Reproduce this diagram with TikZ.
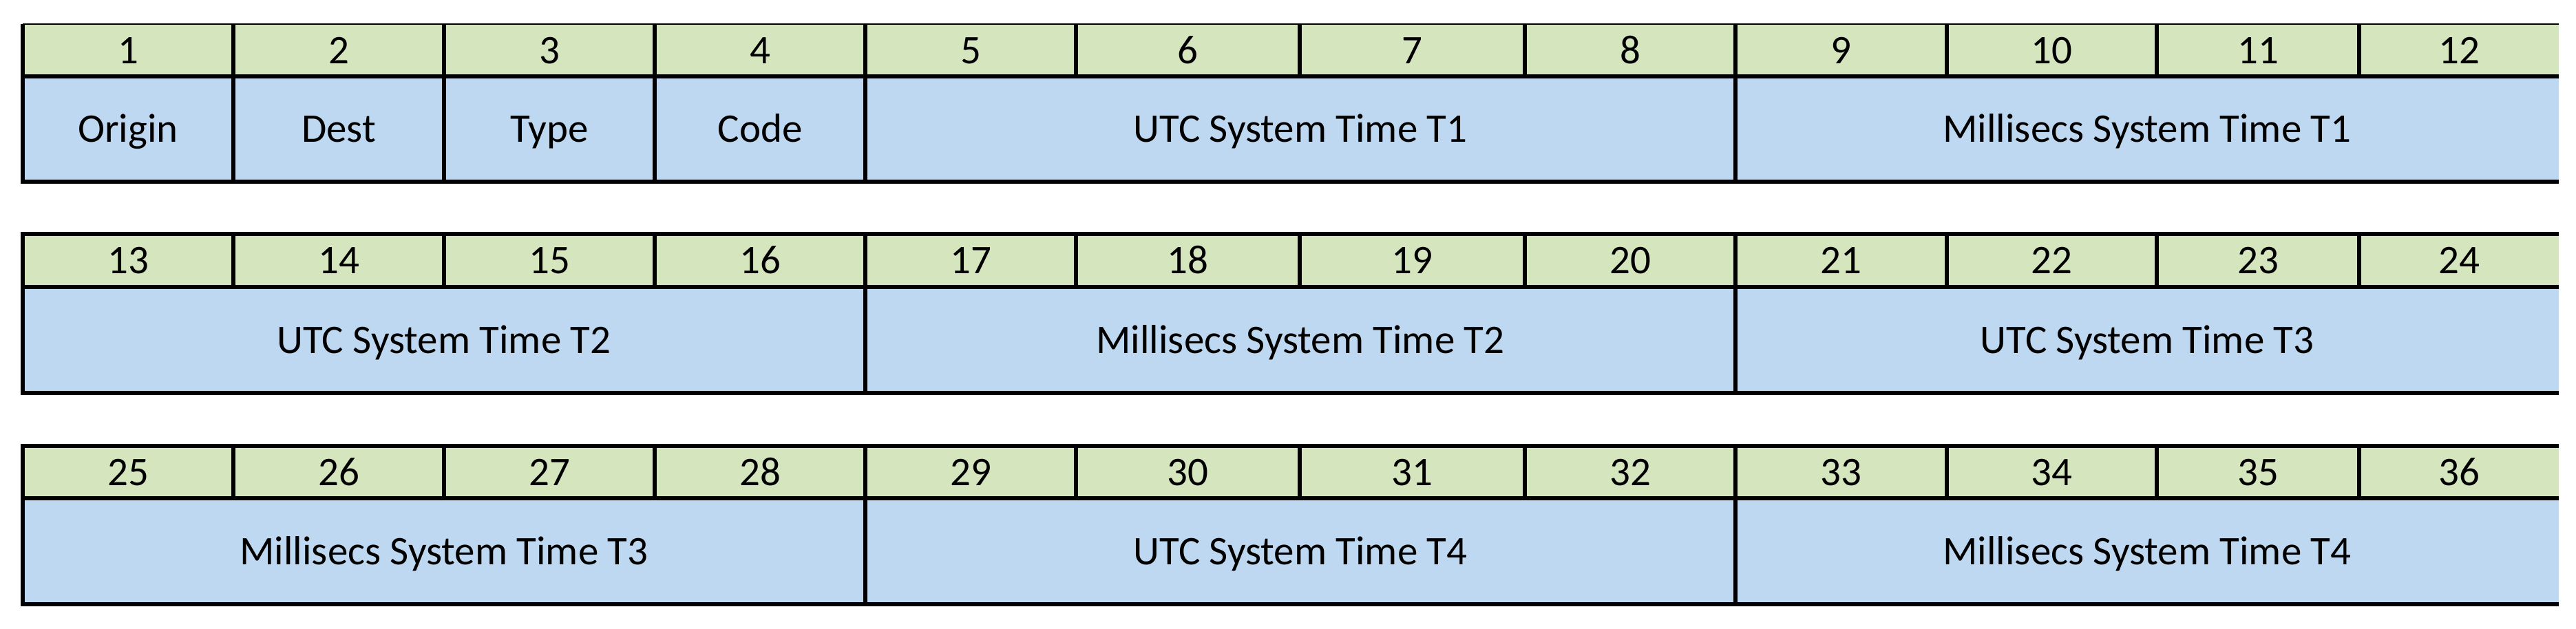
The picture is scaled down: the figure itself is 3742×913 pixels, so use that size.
\documentclass[tikz,border=0pt]{standalone}
\usepackage{fontspec}
\setmainfont{Carlito}
\definecolor{numgreen}{HTML}{D5E5BD}
\definecolor{fieldblue}{HTML}{BDD8F0}
\begin{document}
\begin{tikzpicture}[x=0.2pt,y=-0.2pt,
  cellbase/.style={inner sep=0pt,outer sep=0pt,text height=7.6pt,text depth=0pt,font=\fontsize{11.8}{14}\selectfont},
  numcell/.style={cellbase,fill=numgreen},
  fieldcell/.style={cellbase,fill=fieldblue},
  gridline/.style={line width=1.2pt,black},
  thinline/.style={line width=0.4pt,black}]
\useasboundingbox (0,0) rectangle (3742,913);
% number cells
\foreach \r/\t/\s in {0/35/111, 1/340/417, 2/648/724} {
  \foreach \c/\a/\b in {1/33/339, 2/339/645, 3/645/951, 4/951/1257, 5/1257/1563, 6/1563/1888, 7/1888/2215, 8/2215/2521, 9/2521/2828, 10/2828/3133, 11/3133/3427, 12/3427/3717} {
    \pgfmathtruncatemacro\n{12*\r+\c}
    \node[numcell, minimum width={(\b-\a)*0.2pt}, minimum height={(\s-\t)*0.2pt}] (g\n) at ({(\a+\b)/2},{(\t+\s)/2}) {\n};
  }
}
% field cells
\newcommand\fieldnode[6]{\node[fieldcell, minimum width={(#3-#2)*0.2pt}, minimum height={(#5-#4)*0.2pt}] (#1) at ({(#2+#3)/2},{(#4+#5)/2}) {#6};}
\fieldnode{origin}{33}{339}{111}{264}{Origin}
\fieldnode{dest}{339}{645}{111}{264}{Dest}
\fieldnode{type}{645}{951}{111}{264}{Type}
\fieldnode{code}{951}{1257}{111}{264}{Code}
\fieldnode{utca}{1257}{2521}{111}{264}{UTC System Time T1}
\fieldnode{msa}{2521}{3717}{111}{264}{Millisecs System Time T1}
\fieldnode{utcb}{33}{1257}{417}{571}{UTC System Time T2}
\fieldnode{msb}{1257}{2521}{417}{571}{Millisecs System Time T2}
\fieldnode{utcc}{2521}{3717}{417}{571}{UTC System Time T3}
\fieldnode{msc}{33}{1257}{724}{878}{Millisecs System Time T3}
\fieldnode{utcd}{1257}{2521}{724}{878}{UTC System Time T4}
\fieldnode{msd}{2521}{3717}{724}{878}{Millisecs System Time T4}
% row 1 frame
\draw[thinline] (g1.north west) -- (g12.north east);
\draw[gridline] (g1.north west) -- (origin.south west) -- (msa.south east);
\draw[gridline] (g1.south west) -- (g12.south east);
% row 2 frame
\draw[gridline] (g24.north east) -- (g13.north west) -- (utcb.south west) -- (utcc.south east);
\draw[gridline] (g13.south west) -- (g24.south east);
% row 3 frame
\draw[gridline] (g36.north east) -- (g25.north west) -- (msc.south west) -- (msd.south east);
\draw[gridline] (g25.south west) -- (g36.south east);
% vertical separators in number rows
\foreach \k in {1,...,11,13,14,...,23,25,26,...,35} {
  \draw[gridline] (g\k.north east) -- (g\k.south east);
}
% vertical separators in field rows
\draw[gridline] (origin.north east) -- (origin.south east);
\draw[gridline] (dest.north east) -- (dest.south east);
\draw[gridline] (type.north east) -- (type.south east);
\draw[gridline] (code.north east) -- (code.south east);
\draw[gridline] (utca.north east) -- (utca.south east);
\draw[gridline] (utcb.north east) -- (utcb.south east);
\draw[gridline] (msb.north east) -- (msb.south east);
\draw[gridline] (msc.north east) -- (msc.south east);
\draw[gridline] (utcd.north east) -- (utcd.south east);
\end{tikzpicture}
\end{document}
